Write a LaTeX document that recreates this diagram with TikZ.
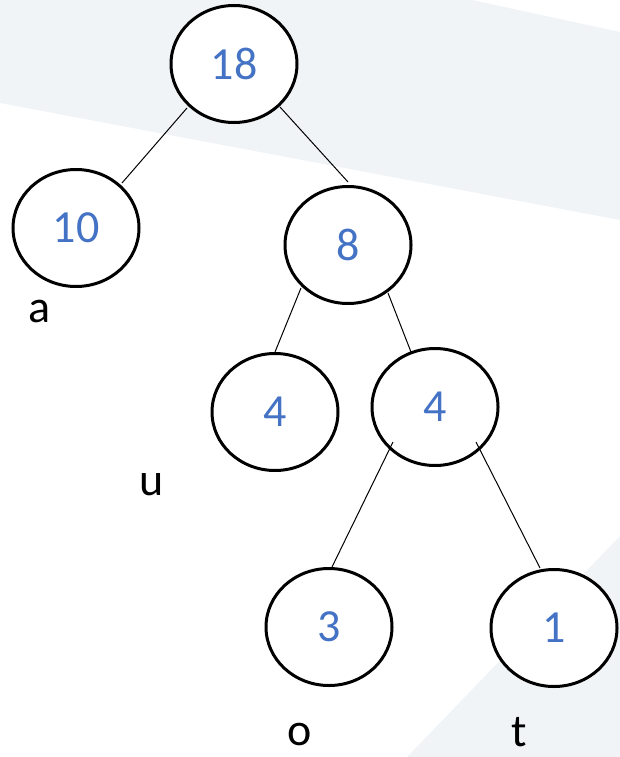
\documentclass[tikz,border=0pt]{standalone}
\usepackage{fontspec}
\setmainfont{Carlito}
\usetikzlibrary{shapes.geometric}
\definecolor{bandgray}{RGB}{240,244,247}
\definecolor{numblue}{RGB}{68,114,196}
\begin{document}
\begin{tikzpicture}[x=1pt,y=-1pt,
  treenode/.style={ellipse,draw=black,line width=3pt,fill=white,
    minimum width=126pt,minimum height=117pt,inner sep=0pt,
    text=numblue,font=\fontsize{46}{46}\selectfont},
  leaflabel/.style={anchor=base,inner sep=0pt,text=black,
    font=\fontsize{46}{46}\selectfont},
  branch/.style={line width=1pt,draw=black}]
\useasboundingbox (0,0) rectangle (620,757);
% light background bands
\fill[bandgray] (0,0) -- (472,0) -- (620,32) -- (620,220) -- (0,103) -- cycle;
\fill[bandgray] (620,536) -- (620,757) -- (407,757) -- cycle;
% tree nodes
\node[treenode] (n18) at (234,64) {18};
\node[treenode] (n10) at (76,228) {10};
\node[treenode] (n8) at (348,245) {8};
\node[treenode] (n4l) at (275,412) {4};
\node[treenode] (n4r) at (435,407) {4};
\node[treenode] (n3) at (329,627) {3};
\node[treenode] (n1) at (554,628) {1};
% branches
\draw[branch] ([shift={(-47,44)}]n18.center) -- ([shift={(46,-45)}]n10.center);
\draw[branch] ([shift={(46,43)}]n18.center) -- ([shift={(0,-63)}]n8.center);
\draw[branch] ([shift={(-47,43)}]n8.center) -- ([shift={(0,-60)}]n4l.center);
\draw[branch] ([shift={(40,48)}]n8.center) -- ([shift={(-24,-55)}]n4r.center);
\draw[branch] ([shift={(-42,35)}]n4r.center) -- ([shift={(3,-60)}]n3.center);
\draw[branch] ([shift={(41,35)}]n4r.center) -- ([shift={(-14,-60)}]n1.center);
% leaf letters
\node[leaflabel] (la) at (40,322) {a};
\node[leaflabel] (lu) at (152,495) {u};
\node[leaflabel] (lo) at (300,745) {o};
\node[leaflabel] (lt) at (519,746) {t};
\end{tikzpicture}
\end{document}
